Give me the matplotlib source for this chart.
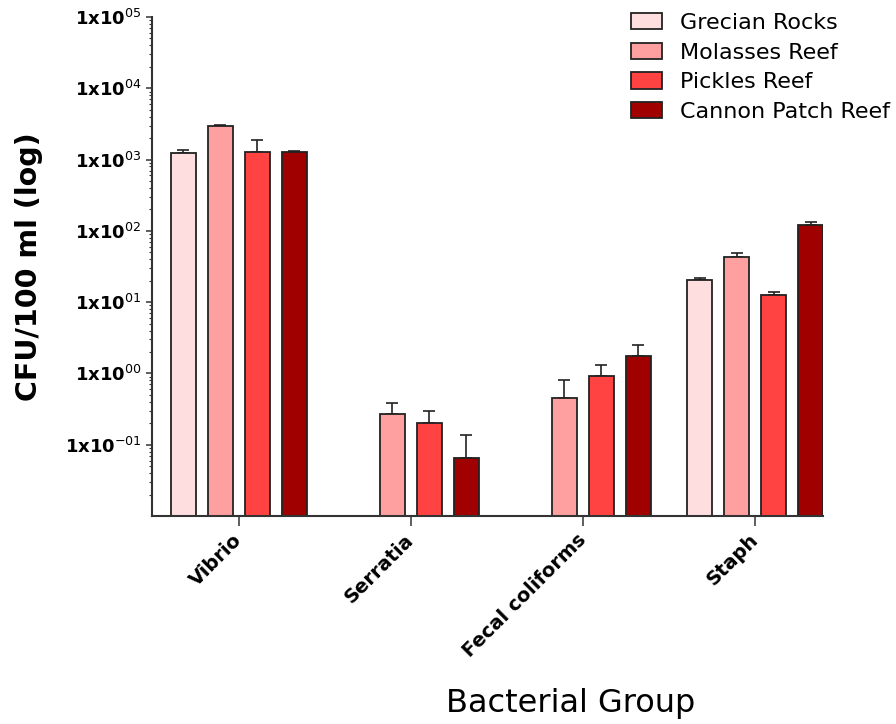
import numpy as np
import matplotlib
matplotlib.use("Agg")
import matplotlib.pyplot as plt

groups = ["Vibrio", "Serratia", "Fecal coliforms", "Staph"]
sites = ["Grecian Rocks", "Molasses Reef", "Pickles Reef", "Cannon Patch Reef"]
colors = ["#FFDEE0", "#FFA0A0", "#FF4343", "#A00000"]

# CFU/100 ml, one list per site (order of groups); nan = not detected
grecian = [1250, np.nan, np.nan, 20.6]
molasses = [3000, 0.266, 0.45, 42.3]
pickles = [1260, 0.199, 0.93, 12.7]
cannon = [1260, 0.066, 1.75, 122.7]

# upper error bars
grecian_err = [110, np.nan, np.nan, 0.9]
molasses_err = [100, 0.12, 0.35, 6.9]
pickles_err = [650, 0.10, 0.38, 1.4]
cannon_err = [40, 0.069, 0.72, 12.3]

values = [grecian, molasses, pickles, cannon]
errors = [grecian_err, molasses_err, pickles_err, cannon_err]
exponents = [-1, 0, 1, 2, 3, 4, 5]

plt.rcParams['font.family'] = 'DejaVu Sans'
plt.rcParams['mathtext.fontset'] = 'dejavusans'

fig = plt.figure(figsize=(8.96, 7.24), dpi=100)
ax = fig.add_axes([152/896, 1 - 516/724, 671/896, 499/724])

x = np.arange(len(groups))
step = 0.215
width = 0.145
for j in range(len(sites)):
    pos = x + (j - 1.5) * step
    vals = np.array(values[j], dtype=float)
    err = np.array(errors[j], dtype=float)
    ax.bar(pos, vals, width, color=colors[j], edgecolor="#222222",
           linewidth=1.3, label=sites[j], zorder=2)
    ax.errorbar(pos, vals, yerr=[np.zeros_like(err), err], fmt="none",
                ecolor="#222222", elinewidth=1.2, capsize=4.5, capthick=1.2,
                zorder=1)

ax.set_yscale("log")
ax.set_ylim(1e-2, 1e5)
ax.set_xlim(-0.505, 3.395)

def exp_label(e):
    s = ("-" if e < 0 else "") + "%02d" % abs(e)
    return "1x10$^{%s}$" % s

ax.set_yticks([10.0 ** e for e in exponents],
              [exp_label(e) for e in exponents],
              fontweight="bold", fontsize=13)
ax.yaxis.set_minor_locator(matplotlib.ticker.LogLocator(base=10, subs=np.arange(2, 10), numticks=20))
ax.yaxis.set_minor_formatter(matplotlib.ticker.NullFormatter())
ax.tick_params(axis="y", which="major", length=4.5, width=1.1, pad=3, color="#333333")
ax.tick_params(axis="y", which="minor", length=2.2, width=0.8, color="#333333")

ax.set_xticks(x, groups, rotation=45, ha="right", va="center",
              rotation_mode="anchor", fontweight="bold", fontsize=14)
ax.tick_params(axis="x", length=7, width=1.1, pad=8, color="#333333")

for side in ["top", "right"]:
    ax.spines[side].set_visible(False)
for side in ["left", "bottom"]:
    ax.spines[side].set_linewidth(1.5)
    ax.spines[side].set_color("#333333")

ax.set_ylabel("CFU/100 ml (log)", fontsize=20.5, fontweight="bold")
ax.yaxis.set_label_coords(-0.162, 0.5)
ax.set_xlabel("Bacterial Group", fontsize=23)
ax.xaxis.set_label_coords(0.624, -0.345)

fig.legend(loc="upper left", bbox_to_anchor=(631/896, 1 - 13/724),
           frameon=False, fontsize=16, handlelength=1.4, handleheight=0.75,
           handletextpad=0.8, labelspacing=0.43, borderpad=0, borderaxespad=0)

fig.savefig("out.png", dpi=100)
